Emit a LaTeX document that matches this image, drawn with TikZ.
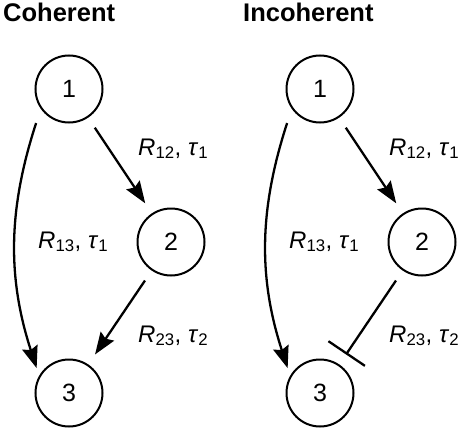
\documentclass[tikz,border=0pt]{standalone}
\usepackage{fontspec}
\setmainfont{Liberation Sans}
\usetikzlibrary{arrows.meta}
\begin{document}
\begin{tikzpicture}[x=1pt,y=1pt,
	state/.style={circle,draw,line width=2pt,minimum size=67pt,inner sep=0pt,font=\fontsize{25}{25}\selectfont},
	title/.style={anchor=base west,inner sep=0pt,font=\fontsize{25.5}{25.5}\selectfont\bfseries},
	rate/.style={anchor=base west,inner sep=0pt,font=\fontsize{24}{24}\selectfont},
	edge/.style={line width=2.3pt,shorten <=12pt,shorten >=12pt},
	act/.style={edge,-{Stealth[length=22pt,width=16pt,inset=3pt]}},
	inh/.style={edge,-{Bar[width=44pt]}}]
	\useasboundingbox (0,0) rectangle (468,432);
	\foreach \p/\x/\tx/\t/\s in {c/0/3/Coherent/act,i/251/243/Incoherent/inh} {
		\node[title] (\p t) at (\tx,410) {\t};
		\node[state] (\p1) at (69+\x,343) {1};
		\node[state] (\p2) at (171+\x,190) {2};
		\node[state] (\p3) at (69+\x,39) {3};
		\node[rate] (\p r12) at (138+\x,277) {\textit{R}\textsubscript{12}, \textit{τ}\textsubscript{1}};
		\node[rate] (\p r13) at (38+\x,184) {\textit{R}\textsubscript{13}, \textit{τ}\textsubscript{1}};
		\node[rate] (\p r23) at (138+\x,90) {\textit{R}\textsubscript{23}, \textit{τ}\textsubscript{2}};
		\draw[act] (\p1) -- (\p2);
		\draw[act,shorten <=15pt,shorten >=8pt] (\p1.215) to[out=252,in=108] (\p3.150);
		\draw[\s] (\p2) -- (\p3);
	}
\end{tikzpicture}
\end{document}
